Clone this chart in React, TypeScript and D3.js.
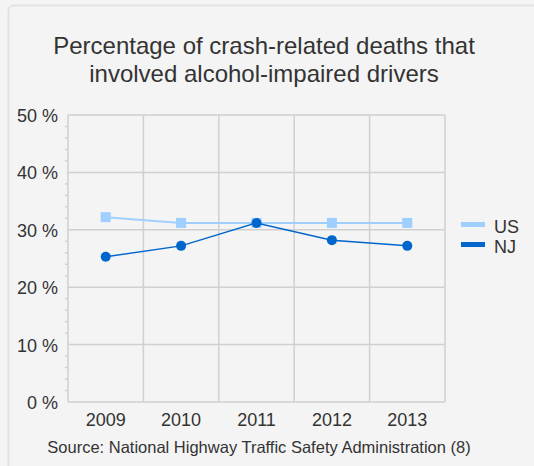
import { useEffect, useRef } from 'react'
import * as d3 from 'd3'

const years = ['2009', '2010', '2011', '2012', '2013']
const usValues = [32.2, 31.2, 31.2, 31.2, 31.2]
const njValues = [25.3, 27.2, 31.2, 28.2, 27.2]
const yTicks = [0, 10, 20, 30, 40, 50]
const seriesNames = ['US', 'NJ']
const titleLines = ['Percentage of crash-related deaths that', 'involved alcohol-impaired drivers']
const sourceText = 'Source: National Highway Traffic Safety Administration (8)'

const W = 534
const H = 466
const FONT = 'Arial, "Liberation Sans", sans-serif'

export default function App() {
  const svgRef = useRef<SVGSVGElement>(null)

  useEffect(() => {
    const svg = d3.select(svgRef.current)
    svg.selectAll('*').remove()

    // fondo y borde redondeado
    svg.append('rect').attr('width', W).attr('height', H).attr('fill', '#f4f4f4')
    svg.append('rect')
      .attr('x', 8.5).attr('y', 5.5)
      .attr('width', W + 20).attr('height', H)
      .attr('rx', 5)
      .attr('fill', '#f4f4f4')
      .attr('stroke', '#e3e3e3')
      .attr('stroke-width', 2)

    const margin = { left: 68, right: 445, top: 115, bottom: 402 }

    const x = d3.scaleBand().domain(years).range([margin.left, margin.right])
    const y = d3.scaleLinear().domain([0, 50]).range([margin.bottom, margin.top])

    // titulo
    svg.append('text')
      .attr('x', 264)
      .attr('y', 54)
      .attr('text-anchor', 'middle')
      .attr('font-family', FONT)
      .attr('font-size', 24)
      .attr('fill', '#333')
      .selectAll('tspan')
      .data(titleLines)
      .enter()
      .append('tspan')
      .attr('x', 264)
      .attr('dy', (_, i) => (i === 0 ? 0 : 28))
      .text(d => d)

    const grid = svg.append('g')

    // ticks menores cada 2%
    grid.selectAll('.minor')
      .data(d3.range(0, 50, 2).filter(v => v % 10 !== 0))
      .enter()
      .append('line')
      .attr('x1', margin.left - 3)
      .attr('x2', margin.left)
      .attr('y1', d => y(d))
      .attr('y2', d => y(d))
      .attr('stroke', '#d0d0d0')
      .attr('stroke-width', 1.5)

    // lineas horizontales
    grid.selectAll('.hline')
      .data(yTicks)
      .enter()
      .append('line')
      .attr('x1', margin.left)
      .attr('x2', margin.right)
      .attr('y1', d => y(d))
      .attr('y2', d => y(d))
      .attr('stroke', '#d0d0d0')
      .attr('stroke-width', 1.5)

    // lineas verticales
    const vx = years.map(yr => x(yr) as number).concat([margin.right])
    grid.selectAll('.vline')
      .data(vx)
      .enter()
      .append('line')
      .attr('x1', d => d)
      .attr('x2', d => d)
      .attr('y1', margin.top)
      .attr('y2', margin.bottom)
      .attr('stroke', '#d0d0d0')
      .attr('stroke-width', 1.5)

    // etiquetas eje Y
    svg.selectAll('.ylab')
      .data(yTicks)
      .enter()
      .append('text')
      .attr('x', 58)
      .attr('y', d => y(d) + 7)
      .attr('text-anchor', 'end')
      .attr('font-family', FONT)
      .attr('font-size', 18)
      .attr('fill', '#333')
      .text(d => `${d} %`)

    // etiquetas eje X
    svg.selectAll('.xlab')
      .data(years)
      .enter()
      .append('text')
      .attr('x', d => (x(d) as number) + x.bandwidth() / 2)
      .attr('y', 426)
      .attr('text-anchor', 'middle')
      .attr('font-family', FONT)
      .attr('font-size', 18)
      .attr('fill', '#333')
      .text(d => d)

    const cx = (d: string) => (x(d) as number) + x.bandwidth() / 2

    const line = d3.line<number>()
      .x((_, i) => cx(years[i]))
      .y(d => y(d))

    // serie US
    svg.append('path')
      .attr('d', line(usValues))
      .attr('fill', 'none')
      .attr('stroke', '#9fcfff')
      .attr('stroke-width', 2)
    svg.selectAll('.us-pt')
      .data(usValues)
      .enter()
      .append('rect')
      .attr('x', (_, i) => cx(years[i]) - 5)
      .attr('y', d => y(d) - 5)
      .attr('width', 10)
      .attr('height', 10)
      .attr('fill', '#9fcfff')

    // serie NJ
    svg.append('path')
      .attr('d', line(njValues))
      .attr('fill', 'none')
      .attr('stroke', '#0066cc')
      .attr('stroke-width', 1.5)
    svg.selectAll('.nj-pt')
      .data(njValues)
      .enter()
      .append('circle')
      .attr('cx', (_, i) => cx(years[i]))
      .attr('cy', d => y(d))
      .attr('r', 5)
      .attr('fill', '#0066cc')

    // leyenda
    const legendColors = ['#9fcfff', '#0066cc']
    const lg = svg.append('g')
    seriesNames.forEach((name, i) => {
      lg.append('rect')
        .attr('x', 461)
        .attr('y', 222 + i * 20)
        .attr('width', 24)
        .attr('height', 5)
        .attr('fill', legendColors[i])
      lg.append('text')
        .attr('x', 494)
        .attr('y', 233 + i * 20)
        .attr('font-family', FONT)
        .attr('font-size', 18)
        .attr('fill', '#333')
        .text(name)
    })

    // fuente
    svg.append('text')
      .attr('x', 259)
      .attr('y', 453)
      .attr('text-anchor', 'middle')
      .attr('font-family', FONT)
      .attr('font-size', 16.5)
      .attr('fill', '#333')
      .text(sourceText)
  }, [])

  return (
    <svg
      ref={svgRef}
      width={W}
      height={H}
      style={{ position: 'absolute', left: 0, top: 0 }}
    />
  )
}
